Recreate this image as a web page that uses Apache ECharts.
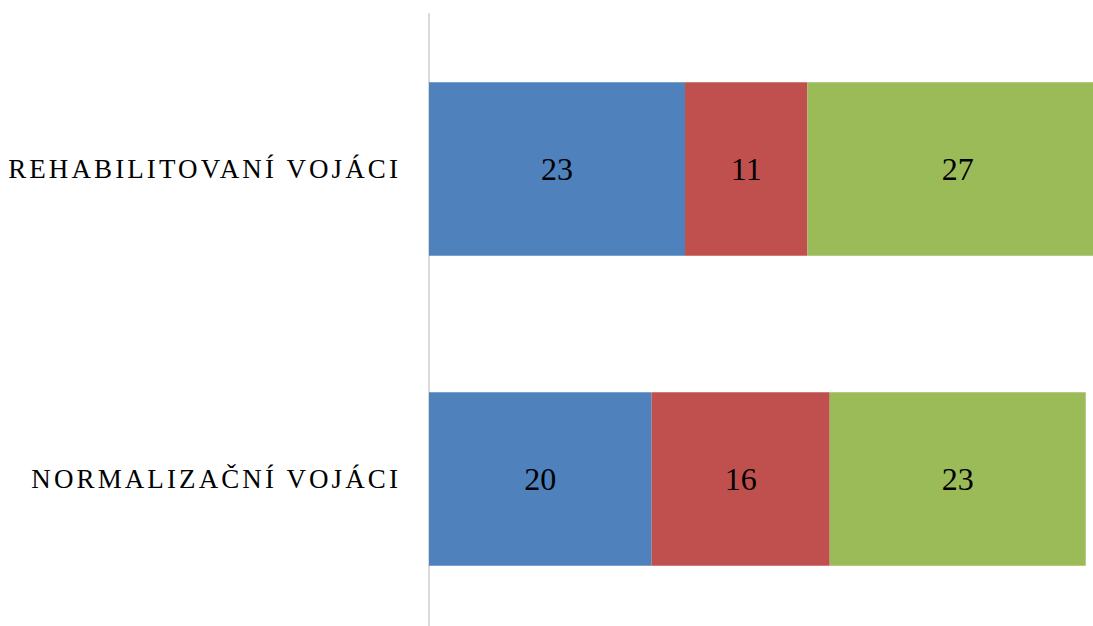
<!DOCTYPE html>
<html>
<head>
<meta charset="utf-8">
<script src="https://cdn.jsdelivr.net/npm/echarts@6/dist/echarts.min.js"></script>
<style>
  html, body { margin: 0; padding: 0; background: #fff; }
  #chart { width: 1093px; height: 626px; }
</style>
</head>
<body>
<div id="chart"></div>
<script>
// kategorie (odspodu nahoru)
var categories = ['NORMALIZAČNÍ VOJÁCI', 'REHABILITOVANÍ VOJÁCI'];
var blueValues = [20, 23];
var redValues = [16, 11];
var greenValues = [23, 27];
var axisMax = 61;

var chart = echarts.init(document.getElementById('chart'), null, { renderer: 'svg' });

var labelStyle = {
    show: true,
    position: 'inside',
    color: '#000',
    fontSize: 32,
    fontFamily: 'Liberation Serif'
};

chart.setOption({
    animation: false,
    grid: { left: 429, top: 14, width: 679, height: 620, outerBoundsMode: 'none' },
    xAxis: {
        type: 'value',
        min: 0,
        max: axisMax,
        show: false
    },
    yAxis: {
        type: 'category',
        data: categories,
        axisLine: { show: true, lineStyle: { color: '#d9d9d9', width: 2 } },
        axisTick: { show: false },
        axisLabel: {
            color: '#000',
            fontSize: 27,
            fontFamily: 'Liberation Serif',
            margin: 28
        }
    },
    series: [
        { type: 'bar', stack: 'a', barWidth: '56%', data: blueValues,
          itemStyle: { color: '#4f81bd' }, label: labelStyle },
        { type: 'bar', stack: 'a', data: redValues,
          itemStyle: { color: '#c0504d' }, label: labelStyle },
        { type: 'bar', stack: 'a', data: greenValues,
          itemStyle: { color: '#9bbb59' }, label: labelStyle }
    ]
});

// prostrkání popisků os
function spaceLabels() {
    var texts = document.querySelectorAll('#chart svg text');
    texts.forEach(function (t) {
        if (categories.indexOf(t.textContent) >= 0) {
            t.style.letterSpacing = '3.1px';
        }
    });
}
spaceLabels();
chart.on('finished', spaceLabels);
</script>
</body>
</html>
